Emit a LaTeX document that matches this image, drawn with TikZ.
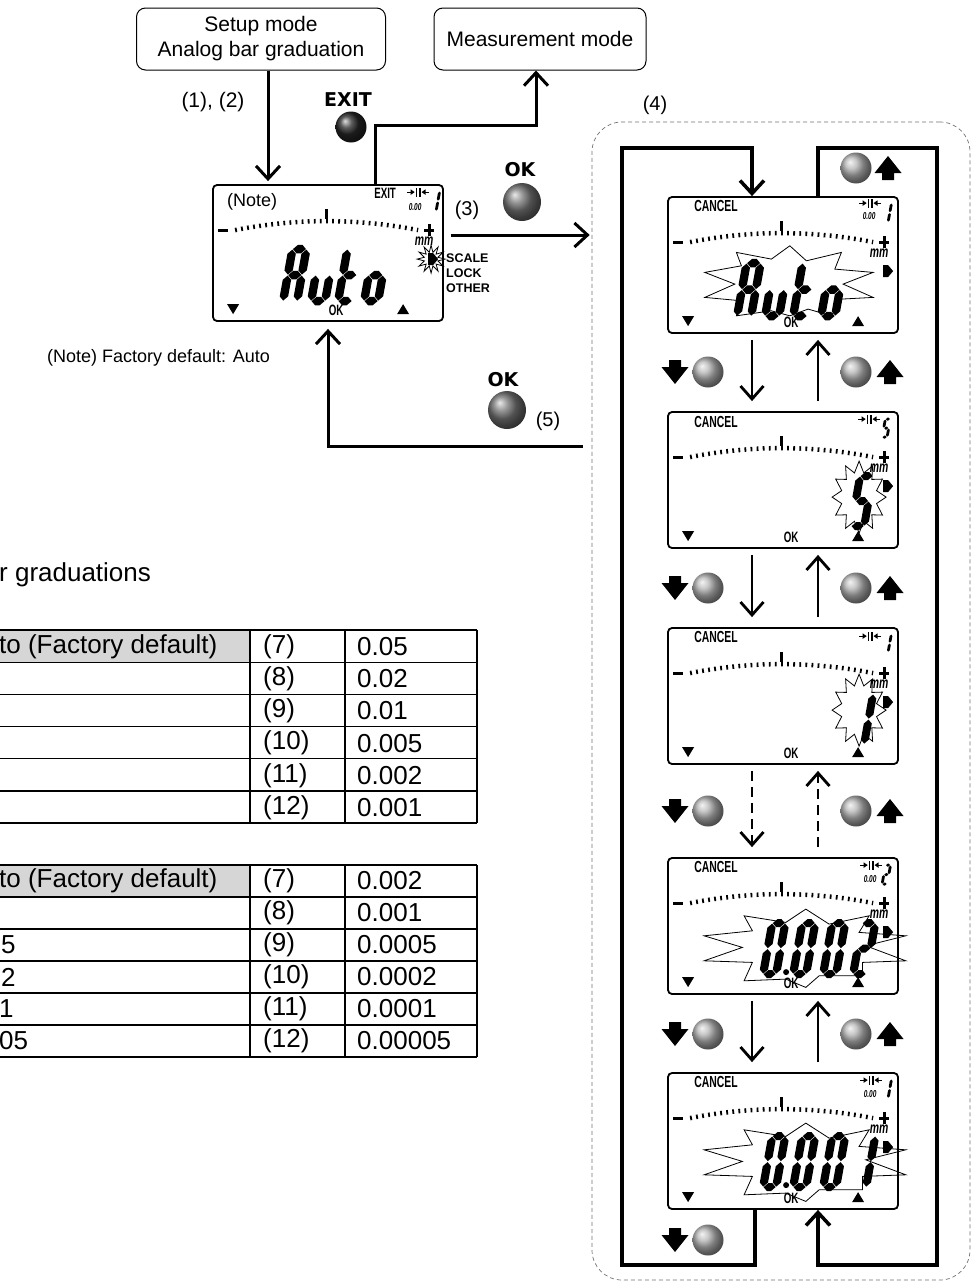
\documentclass[tikz,border=0pt]{standalone}
\usepackage{fontspec}
\setmainfont{Liberation Sans}
\newfontfamily\lcdf[FakeStretch=0.65]{Liberation Sans}
\newfontfamily\heavyf{DejaVu Sans}
\usetikzlibrary{arrows.meta,calc,shapes.geometric}

% ---------- seven segment helpers ----------
\newcommand\hseg[3]{\fill ({#1+\sgg},{#3}) -- ({#1+\sgg+\sgt},{#3-\sgt}) -- ({#2-\sgg-\sgt},{#3-\sgt}) -- ({#2-\sgg},{#3}) -- ({#2-\sgg-\sgt},{#3+\sgt}) -- ({#1+\sgg+\sgt},{#3+\sgt}) -- cycle;}
\newcommand\vseg[3]{\fill ({#1},{#2+\sgg}) -- ({#1+\sgt},{#2+\sgg+\sgt}) -- ({#1+\sgt},{#3-\sgg-\sgt}) -- ({#1},{#3-\sgg}) -- ({#1-\sgt},{#3-\sgg-\sgt}) -- ({#1-\sgt},{#2+\sgg+\sgt}) -- cycle;}
\expandafter\def\csname sgma\endcsname{\hseg{0}{\dgw}{-\dgh}}
\expandafter\def\csname sgmb\endcsname{\vseg{\dgw}{-\dgh}{-\dgh/2}}
\expandafter\def\csname sgmc\endcsname{\vseg{\dgw}{-\dgh/2}{0}}
\expandafter\def\csname sgmd\endcsname{\hseg{0}{\dgw}{0}}
\expandafter\def\csname sgme\endcsname{\vseg{0}{-\dgh/2}{0}}
\expandafter\def\csname sgmf\endcsname{\vseg{0}{-\dgh}{-\dgh/2}}
\expandafter\def\csname sgmg\endcsname{\hseg{0}{\dgw}{-\dgh/2}}
\newcommand\lcddigit[6]{\begin{scope}[shift={(#1,#2)},xslant=0.18]\def\dgw{#3}\def\dgh{#4}\def\sgt{#5}\def\sgg{0.5}\foreach \s in {#6}{\csname sgm\s\endcsname}\end{scope}}

% ---------- small glyphs ----------
\newcommand\gapsym[2]{%
  \fill ({#1-2.6},{#2-4.5}) rectangle ({#1-1.2},{#2+4.5});
  \fill ({#1+1.2},{#2-4.5}) rectangle ({#1+2.6},{#2+4.5});
  \fill ({#1-3.4},{#2}) -- ({#1-7.5},{#2-2.8}) -- ({#1-7.5},{#2+2.8}) -- cycle;
  \fill ({#1+3.4},{#2}) -- ({#1+7.5},{#2-2.8}) -- ({#1+7.5},{#2+2.8}) -- cycle;
  \fill ({#1-11},{#2-0.6}) rectangle ({#1-7},{#2+0.6});
  \fill ({#1+7},{#2-0.6}) rectangle ({#1+11},{#2+0.6});}
\newcommand\blkdn[2]{\fill ({#1-6},{#2-12}) -- ({#1+6},{#2-12}) -- ({#1+6},{#2-5}) -- ({#1+13.5},{#2-5}) -- ({#1},{#2+12}) -- ({#1-13.5},{#2-5}) -- ({#1-6},{#2-5}) -- cycle;}
\newcommand\blkup[2]{\fill ({#1-6},{#2+12}) -- ({#1+6},{#2+12}) -- ({#1+6},{#2+5}) -- ({#1+13.5},{#2+5}) -- ({#1},{#2-12}) -- ({#1-13.5},{#2+5}) -- ({#1-6},{#2+5}) -- cycle;}
\newcommand\burst[6]{\draw[burstline] plot[variable=\t, samples at={0,...,23}] ({#1+ifthenelse(mod(\t,2)==0,#3,#5)*sin(\t*15)},{#2-ifthenelse(mod(\t,2)==0,#4,#6)*cos(\t*15)}) -- cycle;}
\newcommand\widestar{\draw[burstline] (138.7,52) -- (162,67) -- (202,58.7) -- (192,75.3) -- (238.7,78.7) -- (198.7,88.7) -- (238.7,103.7) -- (195.3,105.3) -- (195.3,118.7) -- (152,118.7) -- (138.7,130.3) -- (118.7,122) -- (77,123.7) -- (85.3,105.3) -- (37,103.7) -- (75.3,90.3) -- (37,78.7) -- (85.3,73.7) -- (77,58.7) -- (118.7,65.3) -- cycle;}

% common LCD content (local coordinates, origin = frame top left)
\newcommand\lcdbase[1]{%
  \draw[line width=4.5pt, dash pattern=on 1.8pt off 4.3pt] (23,46) .. controls (84,34) and (145,34) .. (206,46);
  \fill (112.5,25) rectangle (115.5,35);
  \fill (6,44.5) rectangle (16,48);
  \fill (212,44.5) rectangle (222,47.5);
  \fill (215.5,40) rectangle (218.5,52);
  \node[lcdtxt, font=\lcdf\bfseries\itshape\fontsize{16}{16}\selectfont] (#1mm) at (212,57) {mm};
  \fill (216,69) -- (221,69) -- (226,75) -- (221,81) -- (216,81) -- cycle;
  \fill (15,120) -- (27,120) -- (21,130) -- cycle;
  \fill (185,130) -- (197,130) -- (191,120) -- cycle;
  \node[lcdtxt] (#1ok) at (124,126) {OK};}

\tikzset{
  modebox/.style={draw, line width=1pt, rounded corners=9pt, align=center, inner sep=0pt, font=\fontsize{21}{25}\selectfont},
  lbl/.style={inner sep=0pt, font=\fontsize{20}{24}\selectfont},
  notetxt/.style={inner sep=0pt, font=\fontsize{18}{22}\selectfont},
  heavy/.style={inner sep=0pt, font=\heavyf\bfseries\fontsize{19}{22}\selectfont},
  sbold/.style={inner sep=0pt, anchor=west, font=\bfseries\fontsize{12.5}{14}\selectfont},
  btn/.style={circle, inner sep=0pt, minimum size=38pt, ball color=black!55},
  navbtn/.style={circle, inner sep=0pt, minimum size=31pt, ball color=black!30},
  conn/.style={line width=3pt, -{Straight Barb[length=13pt,width=24pt]}},
  conn2/.style={line width=2.8pt, -{Straight Barb[length=13pt,width=23pt]}},
  loopline/.style={line width=3.5pt, -{Straight Barb[length=13pt,width=24pt]}},
  lcdframe/.style={draw, fill=white, line width=1.8pt, rounded corners=4pt, minimum width=230pt, minimum height=136pt, inner sep=0pt},
  grpbox/.style={draw=black!55, dash pattern=on 4pt off 3pt, line width=0.7pt, rounded corners=30pt, minimum width=378pt, minimum height=1158pt, inner sep=0pt},
  lcdtxt/.style={inner sep=0pt, font=\lcdf\bfseries\fontsize{15}{15}\selectfont},
  tinytxt/.style={inner sep=0pt, font=\lcdf\bfseries\itshape\fontsize{10}{10}\selectfont},
  tab/.style={inner sep=0pt, anchor=west, font=\fontsize{26}{30}\selectfont},
  burstline/.style={line width=0.8pt, line join=miter},
}

\begin{document}
\begin{tikzpicture}[x=1pt,y=-1pt]
\useasboundingbox (0,0) rectangle (973,1282);
\fill[white] (0,0) rectangle (973,1282);

% group box (4)
\node[grpbox] (grp) at (781,701) {};

% mode boxes
\node[modebox, minimum width=249pt, minimum height=62pt] (setup) at (261,39) {Setup mode\\Analog bar graduation};
\node[modebox, minimum width=212pt, minimum height=62pt] (meas) at (540,39) {Measurement mode};

% LCD frames
\node[lcdframe] (main) at (328,253) {};
\node[lcdframe] (lcd1) at (783,265) {};
\node[lcdframe] (lcd2) at (783,480) {};
\node[lcdframe] (lcd3) at (783,696) {};
\node[lcdframe] (lcd4) at (783,926) {};
\node[lcdframe] (lcd5) at (783,1141) {};

% labels and buttons (left part)
\node[lbl, font=\fontsize{21}{24}\selectfont] (l12) at (213,102) {(1), (2)};
\node[heavy] (exitl) at (348,100) {EXIT};
\node[btn, minimum size=31pt, ball color=black!85] (exitb) at (351,127) {};
\node[heavy] (okl) at (520,170) {OK};
\node[btn] (okb) at (522,202) {};
\node[lbl] (l3) at (467,210) {(3)};
\node[lbl] (l4) at (655,105) {(4)};
\node[heavy] (okl2) at (503,380) {OK};
\node[btn] (okb2) at (507,410) {};
\node[lbl] (l5) at (548,421) {(5)};
\node[notetxt, anchor=east] (note) at (270,358) {(Note) Factory default: Auto};
\node[sbold] (sc1) at (446,258) {SCALE};
\node[sbold] (sc2) at (446,273) {LOCK};
\node[sbold] (sc3) at (446,288) {OTHER};

% connectors (left part)
\coordinate (sx) at (268,0);
\draw[conn, shorten >=3pt] (setup.south -| sx) -- (main.north -| sx);
\coordinate (ex1) at (375,125);
\coordinate (ex2) at (536,125);
\draw[conn] (main.north -| ex1) -- (ex1) -- (ex2) -- (meas.south -| ex2);
\coordinate (a3) at (0,235);
\draw[conn, shorten <=7pt, shorten >=2pt] (main.east |- a3) -- (grp.west |- a3);
\coordinate (r5) at (328,446);
\draw[conn, shorten <=9pt, shorten >=7pt] (grp.west |- r5) -- (r5) -- (main.south -| r5);

% loop frame
\coordinate (c1) at (755,1265);
\coordinate (c2) at (622,1265);
\coordinate (c3) at (622,148);
\coordinate (c4) at (752,148);
\draw[loopline] (lcd5.south -| c1) -- (c1) -- (c2) -- (c3) -- (c4) -- (lcd1.north -| c4);
\coordinate (c5) at (818,148);
\coordinate (c6) at (937,148);
\coordinate (c7) at (937,1265);
\coordinate (c8) at (818,1265);
\draw[loopline] (lcd1.north -| c5) -- (c5) -- (c6) -- (c7) -- (c8) -- (lcd5.south -| c8);

% arrows between LCDs
\coordinate (dx) at (752,0);
\coordinate (ux) at (818,0);
\foreach \p/\q in {lcd1/lcd2, lcd2/lcd3, lcd4/lcd5} {
  \draw[conn2, shorten <=6pt, shorten >=10pt] (\p.south -| dx) -- (\q.north -| dx);
  \draw[conn2, shorten <=10pt, shorten >=6pt] (\q.north -| ux) -- (\p.south -| ux);
}
\draw[conn2, dash pattern=on 10pt off 6pt, shorten <=6pt, shorten >=10pt] (lcd3.south -| dx) -- (lcd4.north -| dx);
\draw[conn2, dash pattern=on 10pt off 6pt, shorten <=10pt, shorten >=6pt] (lcd4.north -| ux) -- (lcd3.south -| ux);

% navigation buttons
\foreach \y [count=\i] in {372,588,811,1034} {
  \blkdn{675}{\y}
  \node[navbtn] (nd\i) at (708,\y) {};
  \node[navbtn] (nu\i) at (856,\y) {};
  \blkup{890}{\y}
}
\node[navbtn] (ntop) at (856,168) {};
\blkup{888}{168}
\blkdn{675}{1240}
\node[navbtn] (nbot) at (708,1240) {};

% heading and tables
\node[tab] (head) at (-1,575) {r graduations};
% table 1
\fill[black!16] (-10,630) rectangle (250,662.2);
\foreach \i in {0,...,6} \draw[line width=1.2pt] (-10,{630+32.2*\i}) -- (477,{630+32.2*\i});
\draw[line width=2pt] (-10,630) -- (477,630);
\draw[line width=2pt] (-10,823.2) -- (477,823.2);
\draw[line width=2.4pt] (250,630) -- (250,823.2);
\draw[line width=1.2pt] (345,630) -- (345,823.2);
\draw[line width=2pt] (477,630) -- (477,823.2);
\node[tab] (t1a) at (-1,646.5) {to (Factory default)};
\foreach \n/\v [count=\i from 0] in {7/0.05, 8/0.02, 9/0.01, 10/0.005, 11/0.002, 12/0.001} {
  \node[tab] (t1k\i) at (263,{646.5+32.2*\i}) {(\n)};
  \node[tab] (t1v\i) at (357,{646.5+32.2*\i}) {\v};
}
% table 2
\fill[black!16] (-10,865) rectangle (250,897);
\foreach \i in {0,...,6} \draw[line width=1.2pt] (-10,{865+32*\i}) -- (477,{865+32*\i});
\draw[line width=2pt] (-10,865) -- (477,865);
\draw[line width=2pt] (-10,1057) -- (477,1057);
\draw[line width=2.4pt] (250,865) -- (250,1057);
\draw[line width=1.2pt] (345,865) -- (345,1057);
\draw[line width=2pt] (477,865) -- (477,1057);
\node[tab] (t2a) at (-1,881) {to (Factory default)};
\node[tab] (t2c) at (1,945) {5};
\node[tab] (t2d) at (1,977) {2};
\node[tab] (t2e) at (-1,1009) {1};
\node[tab] (t2f) at (-1,1041) {05};
\foreach \n/\v [count=\i from 0] in {7/0.002, 8/0.001, 9/0.0005, 10/0.0002, 11/0.0001, 12/0.00005} {
  \node[tab] (t2k\i) at (263,{881+32*\i}) {(\n)};
  \node[tab] (t2v\i) at (357,{881+32*\i}) {\v};
}

% ---------- LCD contents ----------
% main LCD
\begin{scope}[shift={(main.north west)}]
  \lcdbase{m}
  \node[notetxt] (mnote) at (40,18) {(Note)};
  \node[lcdtxt] (mexit) at (173,9) {EXIT};
  \gapsym{206}{8}
  \node[tinytxt] (mres) at (203,23) {0.00};
  \lcddigit{219}{27}{5}{20}{1.4}{b,c}
  \burst{219}{75}{14}{14}{7}{7}
  \lcddigit{71}{117}{14}{52}{4.2}{a,b,c,e,f,g}
  \lcddigit{99}{117}{14}{52}{4.2}{c,d,e}
  \lcddigit{126}{117}{14}{52}{4.2}{d,e,f,g}
  \lcddigit{152}{117}{14}{52}{4.2}{c,d,e,g}
\end{scope}

% LCD 1 (Auto)
\begin{scope}[shift={(lcd1.north west)}]
  \draw[burstline] (122.7,49.7) -- (139.3,64.7) -- (174.3,56.3) -- (167.7,73) -- (206,76.3) -- (176,88) -- (206,101.3) -- (174.3,103) -- (164.3,119.7) -- (141,113) -- (122.7,119.7) -- (104.3,114.7) -- (69.3,119.7) -- (74.3,104.7) -- (37.7,101.3) -- (67.7,88) -- (37.7,76.3) -- (74.3,69.7) -- (69.3,56.3) -- (104.3,63) -- cycle;
  \lcdbase{a}
  \node[lcdtxt, font=\lcdf\bfseries\fontsize{16}{16}\selectfont] (acan) at (49,10) {CANCEL};
  \gapsym{203}{7}
  \node[tinytxt] (ares) at (202,20) {0.00};
  \lcddigit{216}{26}{5}{19}{1.4}{b,c}
  \lcddigit{70}{120}{14}{53}{4.2}{a,b,c,e,f,g}
  \lcddigit{98}{120}{14}{53}{4.2}{c,d,e}
  \lcddigit{126}{120}{14}{53}{4.2}{d,e,f,g}
  \lcddigit{154}{120}{14}{53}{4.2}{c,d,e,g}
\end{scope}

% LCD 2 (5)
\begin{scope}[shift={(lcd2.north west)}]
  \burst{192}{86}{27}{36}{18}{25}
  \lcdbase{b}
  \node[lcdtxt, font=\lcdf\bfseries\fontsize{16}{16}\selectfont] (bcan) at (49,11) {CANCEL};
  \gapsym{202}{8}
  \lcddigit{215}{26}{5}{18}{1.4}{a,c,d,f,g}
  \lcddigit{184}{115}{13}{50}{4}{a,c,d,f,g}
\end{scope}

% LCD 3 (1)
\begin{scope}[shift={(lcd3.north west)}]
  \burst{192}{83}{27}{36}{18}{25}
  \lcdbase{c}
  \node[lcdtxt, font=\lcdf\bfseries\fontsize{16}{16}\selectfont] (ccan) at (49,10) {CANCEL};
  \gapsym{203}{9}
  \lcddigit{216}{25}{5}{18}{1.4}{b,c}
  \lcddigit{184}{117}{13}{50}{4}{b,c}
\end{scope}

% LCD 4 (0.002)
\begin{scope}[shift={(lcd4.north west)}]
  \widestar
  \lcdbase{d}
  \node[lcdtxt, font=\lcdf\bfseries\fontsize{16}{16}\selectfont] (dcan) at (49,10) {CANCEL};
  \gapsym{204}{8}
  \node[tinytxt] (dres) at (203,22) {0.00};
  \lcddigit{215}{27}{5}{19}{1.4}{a,b,d,e,g}
  \lcddigit{96}{117}{13}{51}{4.1}{a,b,c,d,e,f}
  \fill (119,115) circle (3);
  \lcddigit{126}{117}{13}{51}{4.1}{a,b,c,d,e,f}
  \lcddigit{156}{117}{13}{51}{4.1}{a,b,c,d,e,f}
  \lcddigit{186}{117}{13}{51}{4.1}{a,b,d,e,g}
\end{scope}

% LCD 5 (0.001)
\begin{scope}[shift={(lcd5.north west)}]
  \begin{scope}[yshift=1pt]\widestar\end{scope}
  \lcdbase{e}
  \node[lcdtxt, font=\lcdf\bfseries\fontsize{16}{16}\selectfont] (ecan) at (49,10) {CANCEL};
  \gapsym{204}{8}
  \node[tinytxt] (eres) at (203,22) {0.00};
  \lcddigit{216}{26}{5}{19}{1.4}{b,c}
  \lcddigit{96}{115}{13}{51}{4.1}{a,b,c,d,e,f}
  \fill (119,113) circle (3);
  \lcddigit{126}{115}{13}{51}{4.1}{a,b,c,d,e,f}
  \lcddigit{156}{115}{13}{51}{4.1}{a,b,c,d,e,f}
  \lcddigit{186}{115}{13}{51}{4.1}{b,c}
\end{scope}
\end{tikzpicture}
\end{document}
